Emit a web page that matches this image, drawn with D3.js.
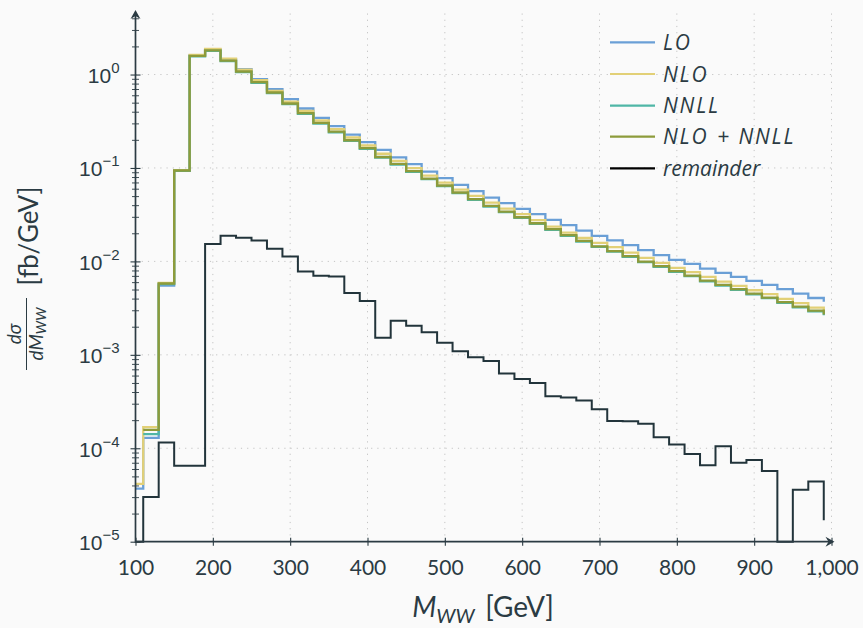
<!DOCTYPE html>
<html><head><meta charset="utf-8">
<script src="https://cdn.jsdelivr.net/npm/d3@7"></script>
<style>
body{margin:0;background:#fafafa;}
svg{display:block;font-family:Lato,"Open Sans",sans-serif;}
</style>
</head><body>
<svg id="c" width="863" height="628"></svg>
<script>
// Bin edges (GeV); each value belongs to the bin starting at that edge, last value = end point at 990
const binEdges = [100,110,130,150,170,190,210,230,250,270,290,310,330,350,370,390,410,430,450,470,490,510,530,550,570,590,610,630,650,670,690,710,730,750,770,790,810,830,850,870,890,910,930,950,970,990];

const loValues = [3.7e-5,1.29e-4,5.5e-3,0.093,1.6,1.85,1.45,1.14,0.893,0.697,0.545,0.433,0.344,0.28,0.228,0.189,0.156,0.130,0.110,0.0916,0.0778,0.0659,0.0564,0.0482,0.042,0.0365,0.032,0.0278,0.0244,0.0214,0.0188,0.0168,0.0149,0.0132,0.01165,0.01038,0.0094,0.00838,0.00753,0.00682,0.00618,0.0056,0.00504,0.00452,0.00406,0.0037];

const nloValues = [4.15e-5,1.68e-4,5.9e-3,0.095,1.62,1.88,1.48,1.13,0.871,0.669,0.514,0.409,0.322,0.26,0.212,0.174,0.142,0.119,0.0995,0.083,0.0698,0.0587,0.0503,0.0426,0.0367,0.032,0.0276,0.0236,0.0203,0.0178,0.0158,0.0142,0.0124,0.0109,0.00964,0.00852,0.00766,0.00682,0.00608,0.00547,0.00491,0.00446,0.00397,0.00357,0.0032,0.003];

const nnllValues = [null,1.42e-4,5.7e-3,0.093,1.57,1.79,1.39,1.06,0.815,0.632,0.482,0.38,0.299,0.241,0.195,0.16,0.129,0.1088,0.0908,0.0758,0.0639,0.0537,0.0456,0.0387,0.0336,0.0292,0.0252,0.0217,0.0188,0.0163,0.0143,0.0127,0.0112,0.0098,0.00876,0.00773,0.00694,0.00613,0.00551,0.00496,0.00445,0.00404,0.0036,0.00323,0.00292,0.00266];

const nloNnllValues = [null,1.57e-4,5.8e-3,0.094,1.58,1.81,1.41,1.077,0.829,0.642,0.49,0.386,0.304,0.245,0.198,0.163,0.131,0.1106,0.0923,0.077,0.0649,0.0546,0.0463,0.0393,0.0341,0.0297,0.0256,0.0221,0.0191,0.0166,0.0145,0.0129,0.0114,0.00995,0.0089,0.00785,0.00705,0.00623,0.0056,0.00504,0.00452,0.0041,0.00366,0.00328,0.00297,0.0027];

const remainderValues = [0,3.0e-5,1.15e-4,6.5e-5,6.5e-5,0.0154,0.0188,0.0179,0.0167,0.0137,0.0113,0.0078,0.0070,0.0069,0.0046,0.00378,0.00152,0.00231,0.00205,0.00175,0.00135,0.00109,0.00094,0.00086,0.00063,0.00055,0.0005,0.00036,0.00035,0.000324,0.000262,0.000196,0.000195,0.000183,0.000131,0.00011,8.7e-5,6.6e-5,1.05e-4,7.0e-5,7.5e-5,5.7e-5,0,3.6e-5,4.4e-5,1.7e-5];

const seriesNames = ["LO","NLO","NNLL","NLO + NNLL","remainder"];
const seriesColors = ["#6a9fd6","#e2d077","#4fb6a6","#8d9b3b","#22343b"];

const xTicks = [100,200,300,400,500,600,700,800,900,1000];
const yDecades = [-5,-4,-3,-2,-1,0];

const svg = d3.select("#c");
const ink = "#2b3b43";
const X0 = 135.5, X1 = 831.5, Y0 = 541.7, Y1 = 11;

const x = d3.scaleLinear().domain([100,1000]).range([X0,X1]);
const y = d3.scaleLog().domain([1e-5, Math.pow(10,0.68)]).range([Y0,Y1]).clamp(true);

svg.append("rect").attr("width",863).attr("height",628).attr("fill","#fafafa");

// grid
const grid = svg.append("g").attr("stroke","#c4c4c4").attr("stroke-width",1).attr("stroke-dasharray","1.2 5");
grid.selectAll("line.v").data(xTicks.slice(1)).join("line")
  .attr("x1",d=>x(d)).attr("x2",d=>x(d)).attr("y1",Y0).attr("y2",Y1+2);
grid.selectAll("line.h").data(yDecades.slice(1)).join("line")
  .attr("y1",d=>y(Math.pow(10,d))).attr("y2",d=>y(Math.pow(10,d))).attr("x1",X0).attr("x2",X1+2);

// series
const allSeries = [loValues,nloValues,nnllValues,nloNnllValues,remainderValues];
const line = d3.line()
  .defined(d=>d.v!==null)
  .x(d=>x(d.e))
  .y(d=>y(d.v>0?d.v:1e-7))
  .curve(d3.curveStepAfter);
allSeries.forEach((vals,i)=>{
  const pts = binEdges.map((e,k)=>({e:e,v:vals[k]}));
  svg.append("path").datum(pts)
    .attr("d",line)
    .attr("fill","none")
    .attr("stroke",seriesColors[i])
    .attr("stroke-width",i===4?2:2.3)
    .attr("stroke-linejoin","miter");
});

// x axis
const xAxis = d3.axisBottom(x).tickValues(xTicks).tickSize(4).tickPadding(0)
  .tickFormat(d=>d3.format(",")(d));
const gx = svg.append("g").attr("transform",`translate(0,${Y0})`).call(xAxis);
gx.select(".domain").remove();
gx.selectAll(".tick line").attr("y1",-4).attr("y2",4).attr("stroke",ink).attr("stroke-width",1.1);
gx.selectAll(".tick text").attr("fill",ink).attr("font-size",21).attr("y",33).attr("dy",0)
  .attr("font-family","Lato, sans-serif");

// y axis major
const yAxis = d3.axisLeft(y).tickValues(yDecades.map(d=>Math.pow(10,d))).tickSize(5).tickPadding(0).tickFormat("");
const gy = svg.append("g").attr("transform",`translate(${X0},0)`).call(yAxis);
gy.select(".domain").remove();
gy.selectAll(".tick line").attr("x1",-5).attr("x2",5).attr("stroke",ink).attr("stroke-width",1.1);
gy.selectAll(".tick").each(function(d){
  const t = d3.select(this).append("text").attr("fill",ink).attr("text-anchor","end")
    .attr("x",-16).attr("y",8).attr("font-size",21);
  const p = Math.round(Math.log10(d));
  t.append("tspan").text("10");
  t.append("tspan").attr("dy",-10).attr("font-size",15).text(p<0?"\u2212"+(-p):String(p));
});

// y axis minor
const minor = [];
for (let dd=-5; dd<=0; dd++) for (let m=2; m<=9; m++){ const v=m*Math.pow(10,dd); if (v<=Math.pow(10,0.66)) minor.push(v); }
const yMinor = d3.axisLeft(y).tickValues(minor).tickSize(3.5).tickFormat("");
const gym = svg.append("g").attr("transform",`translate(${X0},0)`).call(yMinor);
gym.select(".domain").remove();
gym.selectAll(".tick line").attr("x1",-3.5).attr("x2",3.5).attr("stroke",ink).attr("stroke-width",0.9);

// axis lines with arrows
svg.append("line").attr("x1",X0).attr("x2",X1+1).attr("y1",Y0).attr("y2",Y0).attr("stroke",ink).attr("stroke-width",1.7);
svg.append("line").attr("x1",X0).attr("x2",X0).attr("y1",Y0+1).attr("y2",Y1+2).attr("stroke",ink).attr("stroke-width",1.7);
svg.append("path").attr("d",`M${X1+3},${Y0} L${X1-6},${Y0-5} L${X1-3},${Y0} L${X1-6},${Y0+5} Z`).attr("fill",ink);
svg.append("path").attr("d",`M${X0},${Y1-1} L${X0-5},${Y1+8} L${X0},${Y1+5} L${X0+5},${Y1+8} Z`).attr("fill",ink);

// x title
const xt = svg.append("text").attr("x",483).attr("y",617).attr("text-anchor","middle").attr("fill",ink).attr("font-size",28);
xt.append("tspan").attr("font-style","italic").text("M");
xt.append("tspan").attr("font-style","italic").attr("font-size",20).attr("dy",6).text("WW");
xt.append("tspan").attr("dy",-6).text("\u2009 [GeV]");

// y title (rotated)
const yt = svg.append("g").attr("transform","rotate(-90)").attr("fill",ink);
yt.append("text").attr("x",-236).attr("y",38).attr("text-anchor","middle").attr("font-size",26).text("[fb/GeV]");
yt.append("text").attr("x",-334).attr("y",21).attr("text-anchor","middle").attr("font-size",19).attr("font-style","italic").text("d\u03C3");
yt.append("line").attr("x1",-370).attr("x2",-298).attr("y1",26.5).attr("y2",26.5).attr("stroke",ink).attr("stroke-width",1);
const den = yt.append("text").attr("x",-334).attr("y",43).attr("text-anchor","middle").attr("font-size",19).attr("font-style","italic");
den.append("tspan").text("dM");
den.append("tspan").attr("font-size",14).attr("dy",3).text("WW");

// legend
const legY = [42.3,74,105.7,136.7,168.3];
const legColors = ["#6a9fd6","#e2d077","#4fb6a6","#8d9b3b","#000000"];
const lg = svg.append("g").attr("font-family","'Open Sans', sans-serif");
seriesNames.forEach((n,i)=>{
  lg.append("line").attr("x1",610).attr("x2",655).attr("y1",legY[i]).attr("y2",legY[i])
    .attr("stroke",legColors[i]).attr("stroke-width",2.2);
  const t = lg.append("text").attr("x",663).attr("y",legY[i]+7.5).attr("fill",ink).attr("font-size",21);
  if (n==="NLO + NNLL"){
    t.append("tspan").attr("font-style","italic").attr("letter-spacing",1.8).text("NLO");
    t.append("tspan").attr("dx",9).text("+");
    t.append("tspan").attr("dx",9).attr("font-style","italic").attr("letter-spacing",1.8).text("NNLL");
  } else if (n==="remainder") {
    t.append("tspan").attr("font-style","italic").text(n);
  } else {
    t.append("tspan").attr("font-style","italic").attr("letter-spacing",1.8).text(n);
  }
});
</script>
</body></html>
